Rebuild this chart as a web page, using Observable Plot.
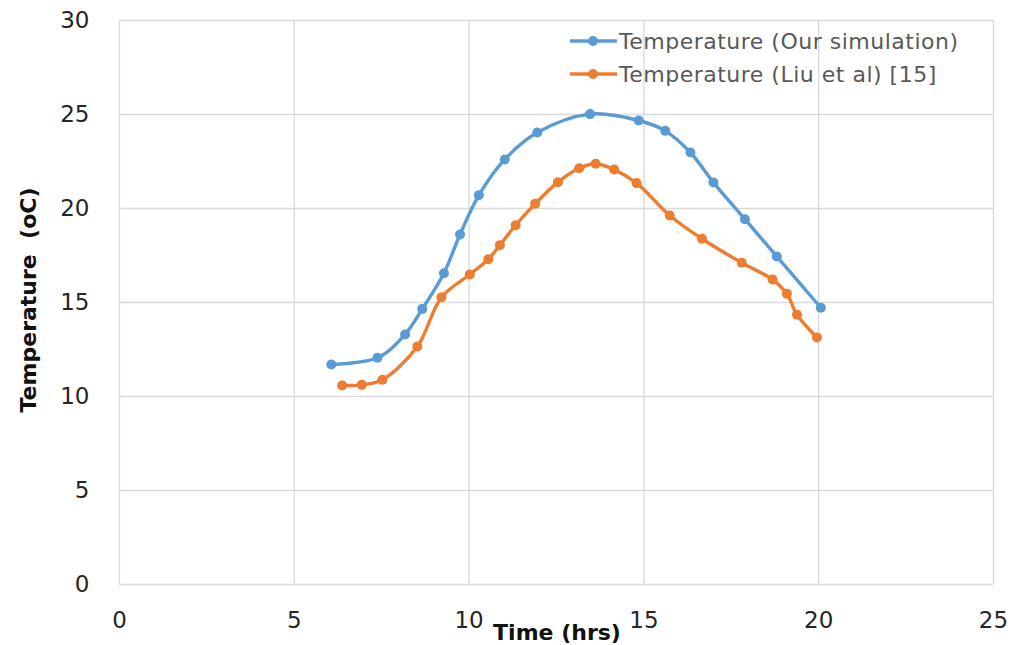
<!DOCTYPE html>
<html>
<head>
<meta charset="utf-8">
<script src="https://cdn.jsdelivr.net/npm/d3@7"></script>
<script src="https://cdn.jsdelivr.net/npm/@observablehq/plot@0.6"></script>
<style>
  html, body { margin: 0; padding: 0; background: #fff; }
  #chart svg { display: block; }
</style>
</head>
<body>
<div id="chart"></div>
<script>
const ourTime = [6.06, 7.38, 8.17, 8.66, 9.28, 9.74, 10.28, 11.02, 11.95, 13.46, 14.85, 15.61, 16.33, 16.99, 17.89, 18.80, 20.06];
const ourTemp = [11.70, 12.06, 13.30, 14.66, 16.56, 18.62, 20.71, 22.61, 24.04, 25.02, 24.68, 24.13, 22.98, 21.38, 19.43, 17.45, 14.72];
const liuTime = [6.37, 6.93, 7.52, 8.52, 9.21, 10.02, 10.55, 10.88, 11.33, 11.89, 12.54, 13.15, 13.62, 14.15, 14.79, 15.74, 16.66, 17.80, 18.68, 19.09, 19.38, 19.95];
const liuTemp = [10.59, 10.62, 10.89, 12.66, 15.28, 16.49, 17.30, 18.05, 19.11, 20.25, 21.40, 22.14, 22.38, 22.07, 21.35, 19.63, 18.39, 17.11, 16.22, 15.46, 14.35, 13.14];
const seriesNames = ["Temperature (Our simulation)", "Temperature (Liu et al) [15]"];
const seriesColors = ["#5B9BD5", "#ED7D31"];
const xTicks = [0, 5, 10, 15, 20, 25];
const yTicks = [0, 5, 10, 15, 20, 25, 30];
const xTitle = "Time (hrs)";
const yTitle = "Temperature\u00a0\u00a0(oC)";

const ours = ourTime.map((t, i) => ({time: t, temp: ourTemp[i]}));
const liu = liuTime.map((t, i) => ({time: t, temp: liuTemp[i]}));

const chart = Plot.plot({
  width: 1013,
  height: 645,
  marginLeft: 119,
  marginRight: 20,
  marginTop: 20,
  marginBottom: 61,
  style: {fontFamily: "'DejaVu Sans', sans-serif", fontSize: "20px", background: "#fff"},
  x: {domain: [0, 25]},
  y: {domain: [0, 30]},
  marks: [
    Plot.gridX(xTicks, {stroke: "#d9d9d9", strokeOpacity: 1, strokeWidth: 1.3}),
    Plot.gridY(yTicks, {stroke: "#d9d9d9", strokeOpacity: 1, strokeWidth: 1.3}),
    Plot.axisX({ticks: xTicks, tickSize: 0, tickPadding: 27, fontSize: 23, color: "#262626", label: null}),
    Plot.axisY({ticks: yTicks, tickSize: 0, tickPadding: 30, fontSize: 23, color: "#262626", label: null}),
    Plot.line(ours, {x: "time", y: "temp", stroke: seriesColors[0], strokeWidth: 3.4, curve: "catmull-rom"}),
    Plot.dot(ours, {x: "time", y: "temp", fill: seriesColors[0], r: 5}),
    Plot.line(liu, {x: "time", y: "temp", stroke: seriesColors[1], strokeWidth: 3.4, curve: "catmull-rom"}),
    Plot.dot(liu, {x: "time", y: "temp", fill: seriesColors[1], r: 5})
  ]
});

document.getElementById("chart").appendChild(chart);

const svg = d3.select(chart);
// axis titles
svg.append("text")
  .attr("x", 557).attr("y", 640)
  .attr("text-anchor", "middle")
  .attr("font-family", "'DejaVu Sans', sans-serif")
  .attr("font-weight", "bold")
  .attr("font-size", 22)
  .attr("fill", "#111")
  .text(xTitle);
svg.append("text")
  .attr("transform", "translate(36,300) rotate(-90)")
  .attr("text-anchor", "middle")
  .attr("font-family", "'DejaVu Sans', sans-serif")
  .attr("font-weight", "bold")
  .attr("font-size", 22)
  .attr("fill", "#111")
  .text(yTitle);

// legend
const leg = svg.append("g");
seriesNames.forEach((name, i) => {
  const y = 41 + i * 33;
  leg.append("line").attr("x1", 570).attr("x2", 617).attr("y1", y).attr("y2", y)
    .attr("stroke", seriesColors[i]).attr("stroke-width", 3.4);
  leg.append("circle").attr("cx", 593).attr("cy", y).attr("r", 5).attr("fill", seriesColors[i]);
  leg.append("text").attr("x", 619).attr("y", y).attr("dy", "0.36em")
    .attr("text-anchor", "start")
    .attr("font-family", "'DejaVu Sans', sans-serif")
    .attr("font-size", 22)
    .attr("letter-spacing", "0.5px")
    .attr("fill", "#595959")
    .text(name);
});
</script>
</body>
</html>
